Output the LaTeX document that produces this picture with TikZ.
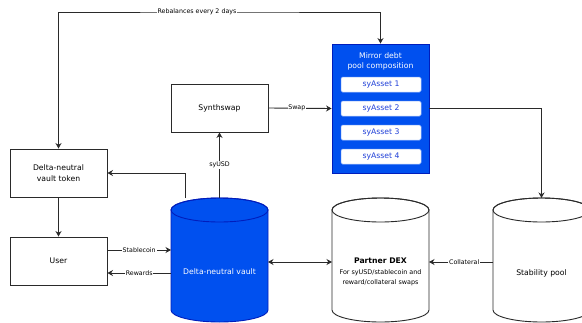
\documentclass[tikz,border=0pt]{standalone}
\usepackage{fontspec}
\setmainfont{DejaVu Sans}
\usetikzlibrary{arrows.meta}
\definecolor{dblue}{HTML}{0050EF}
\definecolor{dbluestroke}{HTML}{001DBC}
\definecolor{astext}{HTML}{1F3FD8}
\definecolor{ln}{HTML}{2A2A2A}
\begin{document}
\begin{tikzpicture}[x=1pt,y=1pt,
  box/.style={draw=ln, line width=0.9pt, minimum width=97pt, minimum height=48pt, inner sep=0pt, align=center, font=\fontsize{7.7}{11}\selectfont},
  asset/.style={draw=dblue!40, fill=white, rounded corners=1.5pt, line width=0.5pt, minimum width=80pt, minimum height=15pt, inner sep=0pt, text=astext, font=\fontsize{7.7}{9}\selectfont},
  lbl/.style={fill=white, inner sep=0.8pt, font=\fontsize{6.3}{7}\selectfont},
  arr/.style={draw=ln, line width=0.9pt, -{Stealth[length=5.5pt,width=6pt]}},
  barr/.style={draw=ln, line width=0.9pt, {Stealth[length=5.5pt,width=6pt]}-{Stealth[length=5.5pt,width=6pt]}},
  ctext/.style={inner sep=0pt, align=center, font=\fontsize{7.7}{10}\selectfont}
]
\clip (0,0) rectangle (582,-322);
\fill[white] (0,0) rectangle (582,-322);

% boxes
\node[box] (token) at (58.5,-173) {Delta-neutral\\vault token};
\node[box] (user) at (58.5,-261) {User};
\node[box] (synth) at (219.5,-108) {Synthswap};
\node[draw=dbluestroke, fill=dblue, line width=0.9pt, minimum width=97pt, minimum height=129pt, inner sep=0pt] (mirror) at (380.5,-108.5) {};
\node[ctext, text=white] (mtitle) at (380.5,-61) {Mirror debt\\pool composition};
\node[asset] (a1) at (381,-84.5) {syAsset 1};
\node[asset] (a2) at (381,-108.5) {syAsset 2};
\node[asset] (a3) at (381,-132.5) {syAsset 3};
\node[asset] (a4) at (381,-156.5) {syAsset 4};

% cylinders
\path[fill=dblue, draw=dbluestroke, line width=0.9pt] (171,-210) -- (171,-310) arc[start angle=180,end angle=360,x radius=48.5,y radius=12] -- (268,-210) arc[start angle=0,end angle=180,x radius=48.5,y radius=12] -- cycle;
\draw[dbluestroke, line width=0.9pt] (219.5,-210) ellipse[x radius=48.5, y radius=12];
\path[fill=white, draw=ln, line width=0.9pt] (332,-210) -- (332,-310) arc[start angle=180,end angle=360,x radius=48.5,y radius=12] -- (429,-210) arc[start angle=0,end angle=180,x radius=48.5,y radius=12] -- cycle;
\draw[ln, line width=0.9pt] (380.5,-210) ellipse[x radius=48.5, y radius=12];
\path[fill=white, draw=ln, line width=0.9pt] (493,-210) -- (493,-310) arc[start angle=180,end angle=360,x radius=48.5,y radius=12] -- (590,-210) arc[start angle=0,end angle=180,x radius=48.5,y radius=12] -- cycle;
\draw[ln, line width=0.9pt] (541.5,-210) ellipse[x radius=48.5, y radius=12];

\node[ctext, text=white] (vault) at (219.5,-272) {Delta-neutral vault};
\node[ctext] (dex) at (380.5,-261) {\textbf{Partner DEX}};
\node[ctext, font=\fontsize{6.4}{10}\selectfont] (dexsub) at (380.5,-278) {For syUSD/stablecoin and\\reward/collateral swaps};
\node[ctext] (stab) at (541.5,-273) {Stability pool};

% anchor coordinates
\coordinate (vtop1) at (185,-198);
\coordinate (vtop2) at (219.5,-198);
\coordinate (vleft1) at (171,-250);
\coordinate (vleft2) at (171,-273);
\coordinate (vright) at (268,-262);
\coordinate (dexleft) at (332,-262);
\coordinate (dexright) at (429,-262);
\coordinate (stableft) at (493,-262);
\coordinate (stabtop) at (541.5,-198);
\coordinate (reb) at (220,-12);

% connectors
\draw[barr] (token.north) |- (reb) -| (mirror.north);
\node[lbl] at (197,-12) {Rebalances every 2 days};
\draw[arr] (token.south) -- (user.north);
\draw[arr] (synth.east) -- (mirror.west) node[lbl, pos=0.45] {Swap};
\draw[arr] (mirror.east) -| (stabtop);
\draw[arr] (vtop2) -- (synth.south) node[lbl, pos=0.5] {syUSD};
\draw[arr] (vtop1) |- (token.east);
\draw[arr] (user.east |- vleft1) -- (vleft1) node[lbl, midway] {Stablecoin};
\draw[arr] (vleft2) -- (user.east |- vleft2) node[lbl, midway] {Rewards};
\draw[barr] (vright) -- (dexleft);
\draw[arr] (stableft) -- (dexright) node[lbl, pos=0.45] {Collateral};
\end{tikzpicture}
\end{document}
